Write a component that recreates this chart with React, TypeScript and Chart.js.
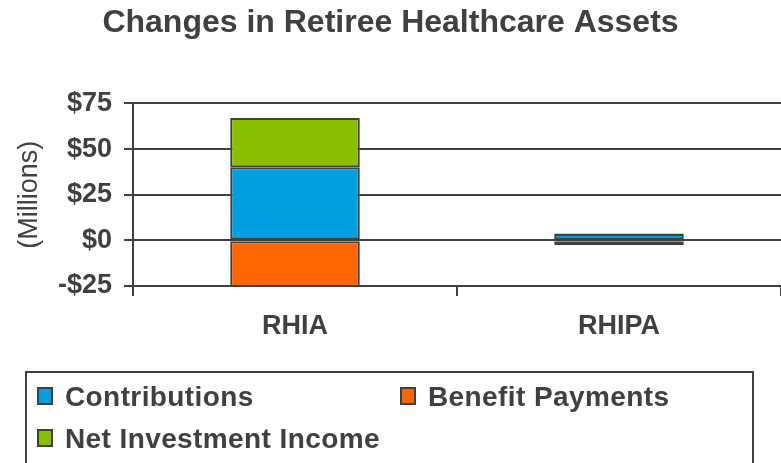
import React, { useEffect, useRef } from "react";
import { Chart, registerables } from "chart.js";

Chart.register(...registerables);

const categories = ["RHIA", "RHIPA"];
const contributions = [40, 3.5];
const benefitPayments = [-25.5, -2.5];
const netInvestmentIncome = [27, 0.3];
const seriesNames = ["Contributions", "Benefit Payments", "Net Investment Income"];
const seriesColors = ["#00A0E0", "#FF6600", "#88C000"];
const yTicks = [-25, 0, 25, 50, 75];

const TEXT = "#404040";
const FONT = "'Liberation Sans', Arial, sans-serif";

const boxLegend = {
  id: "boxLegend",
  afterDraw(chart: any) {
    const ctx = chart.ctx;
    ctx.save();
    ctx.strokeStyle = TEXT;
    ctx.lineWidth = 2;
    ctx.strokeRect(26, 372, 727, 120);
    const cols = [38, 401];
    const rowY = [388, 430];
    ctx.font = `bold 28px ${FONT}`;
    ctx.textBaseline = "alphabetic";
    ctx.textAlign = "left";
    try { (ctx as any).letterSpacing = "0.4px"; } catch (e) {}
    chart.data.datasets.forEach((ds: any, i: number) => {
      const x = cols[i % 2];
      const y = rowY[Math.floor(i / 2)];
      ctx.fillStyle = ds.backgroundColor;
      ctx.fillRect(x, y, 14, 16);
      ctx.lineWidth = 2;
      ctx.strokeStyle = TEXT;
      ctx.strokeRect(x, y, 14, 16);
      ctx.fillStyle = TEXT;
      ctx.fillText(ds.label, x + 27, y + 18);
    });
    ctx.restore();
  },
};

export default function App() {
  const ref = useRef<HTMLCanvasElement>(null);
  useEffect(() => {
    document.body.style.margin = "0";
    const values = [contributions, benefitPayments, netInvestmentIncome];
    const chart = new Chart(ref.current!, {
      type: "bar",
      data: {
        labels: categories,
        datasets: seriesNames.map((name, i) => ({
          label: name,
          data: values[i],
          backgroundColor: seriesColors[i],
          borderColor: TEXT,
          borderWidth: 2,
          borderSkipped: false,
          barPercentage: 0.4,
          categoryPercentage: 1,
        })),
      },
      options: {
        animation: false,
        responsive: false,
        layout: { padding: { top: 0, right: 0, bottom: 117, left: 0 } },
        plugins: {
          legend: { display: false },
          tooltip: { enabled: false },
          title: {
            display: true,
            text: "Changes in Retiree Healthcare Assets",
            color: TEXT,
            font: { family: FONT, size: 32, weight: "bold" },
            padding: { top: 4, bottom: 61 },
          },
        },
        scales: {
          x: {
            stacked: true,
            grid: { display: true, drawOnChartArea: false, color: TEXT, lineWidth: 2, tickLength: 10, offset: true },
            border: { display: false },
            ticks: { color: TEXT, font: { family: FONT, size: 27, weight: "bold" }, padding: 14 },
            afterFit: (s: any) => { s.height = 60; },
          },
          y: {
            stacked: true,
            min: -25,
            max: 75,
            afterBuildTicks: (s: any) => { s.ticks = yTicks.map((v) => ({ value: v })); },
            grid: { color: TEXT, lineWidth: 2, tickLength: 9 },
            border: { display: true, color: TEXT, width: 2 },
            ticks: {
              color: TEXT,
              font: { family: FONT, size: 27, weight: "bold" },
              padding: 12,
              callback: (v: any) => (v < 0 ? "-$" : "$") + Math.abs(v),
            },
            title: {
              display: true,
              text: "(Millions)",
              color: TEXT,
              font: { family: FONT, size: 27 },
              padding: { top: 13, bottom: 0 },
            },
            afterFit: (s: any) => { s.width = 133; },
          },
        },
      },
      plugins: [boxLegend],
    });
    return () => chart.destroy();
  }, []);
  return <canvas ref={ref} width={781} height={463} style={{ display: "block", width: 781, height: 463 }} />;
}
